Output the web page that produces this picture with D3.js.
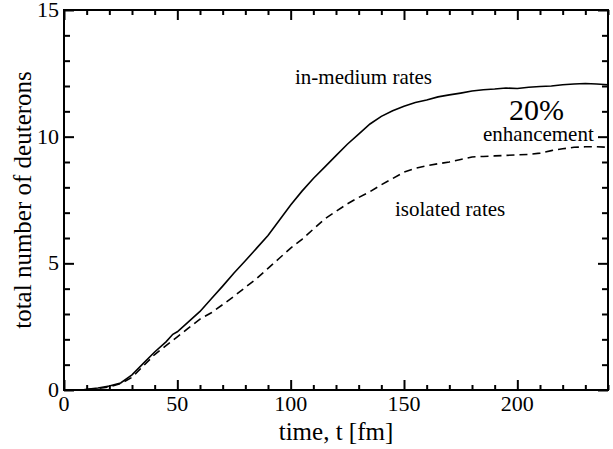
<!DOCTYPE html>
<html>
<head>
<meta charset="utf-8">
<script src="https://cdn.jsdelivr.net/npm/d3@7"></script>
<style>
  body { margin: 0; background: #fff; }
</style>
</head>
<body>
<svg id="chart" width="613" height="449"></svg>
<script>
// time in fm
var timeMedium = [8, 10, 15, 20, 25, 30, 35, 40, 45, 48, 50, 55, 60, 65, 70, 75, 80, 85, 90, 95, 100,
  105, 110, 115, 120, 125, 130, 135, 140, 145, 150, 155, 160, 165, 170, 175, 180, 185, 190, 195,
  200, 205, 210, 215, 220, 225, 230, 235, 240];
// in-medium rates, deuteron count
var nMedium = [0.0, 0.03, 0.08, 0.16, 0.28, 0.6, 1.05, 1.5, 1.9, 2.2, 2.3, 2.7, 3.1, 3.6, 4.1, 4.62, 5.1, 5.6, 6.1, 6.7, 7.3,
  7.85, 8.35, 8.8, 9.25, 9.7, 10.1, 10.5, 10.8, 11.02, 11.2, 11.35, 11.45, 11.57, 11.65, 11.72, 11.8, 11.85, 11.88, 11.92,
  11.9, 11.95, 11.98, 12.0, 12.05, 12.08, 12.1, 12.08, 12.05];

var timeIsolated = [10, 15, 20, 25, 30, 35, 40, 45, 50, 55, 60, 65, 70, 75, 80, 85, 90, 95, 100,
  105, 110, 115, 120, 125, 130, 135, 140, 145, 150, 155, 160, 165, 170, 175, 180, 185, 190, 195,
  200, 205, 210, 215, 220, 225, 230, 235, 240];
// isolated rates, deuteron count
var nIsolated = [0.02, 0.06, 0.12, 0.25, 0.5, 0.95, 1.4, 1.75, 2.1, 2.45, 2.8, 3.05, 3.37, 3.7, 4.05, 4.4, 4.8, 5.2, 5.6,
  5.95, 6.35, 6.75, 7.05, 7.35, 7.6, 7.83, 8.1, 8.35, 8.6, 8.75, 8.85, 8.93, 9.0, 9.1, 9.2, 9.22, 9.24, 9.26,
  9.28, 9.3, 9.35, 9.45, 9.52, 9.58, 9.6, 9.6, 9.58];

var xMajor = [0, 50, 100, 150, 200];
var yMajor = [0, 5, 10, 15];

var serif = "'Liberation Serif', 'Times New Roman', serif";

var svg = d3.select("#chart");
// plot box (note: "top" is taken by window.top, so use prefixed names)
var pLeft = 64, pRight = 608, pTop = 10, pBottom = 390;

var x = d3.scaleLinear().domain([0, 240]).range([pLeft, pRight]);
var y = d3.scaleLinear().domain([0, 15]).range([pBottom, pTop]);

var xMinor = d3.range(0, 241, 10).filter(function (d) { return d % 50 != 0; });
var yMinor = d3.range(0, 16, 1).filter(function (d) { return d % 5 != 0; });

// Inward ticks on all four sides
function tickAxis(axisFn, scale, vals, size, transform) {
  svg.append("g")
    .attr("transform", transform)
    .call(axisFn(scale).tickValues(vals).tickSize(size).tickFormat(""))
    .call(function (g) { g.select(".domain").remove(); })
    .selectAll("line").attr("stroke", "#000").attr("stroke-width", 2);
}
tickAxis(d3.axisBottom, x, xMajor, -10, "translate(0," + pBottom + ")");
tickAxis(d3.axisBottom, x, xMinor, -5, "translate(0," + pBottom + ")");
tickAxis(d3.axisTop, x, xMajor, -10, "translate(0," + pTop + ")");
tickAxis(d3.axisTop, x, xMinor, -5, "translate(0," + pTop + ")");
tickAxis(d3.axisLeft, y, yMajor, -10, "translate(" + pLeft + ",0)");
tickAxis(d3.axisLeft, y, yMinor, -6, "translate(" + pLeft + ",0)");
tickAxis(d3.axisRight, y, yMajor, -10, "translate(" + pRight + ",0)");
tickAxis(d3.axisRight, y, yMinor, -6, "translate(" + pRight + ",0)");

// Frame
svg.append("rect")
  .attr("x", pLeft).attr("y", pTop)
  .attr("width", pRight - pLeft).attr("height", pBottom - pTop)
  .attr("fill", "none").attr("stroke", "#000").attr("stroke-width", 2);

// all text goes in one group with the serif face
var txt = svg.append("g").attr("font-family", serif).attr("fill", "#000");

// Tick labels
txt.append("g").selectAll("text").data(xMajor).enter().append("text")
  .attr("x", function (d) { return x(d); })
  .attr("y", pBottom + 21)
  .attr("text-anchor", "middle")
  .attr("font-size", 22)
  .text(function (d) { return d; });

txt.append("g").selectAll("text").data(yMajor).enter().append("text")
  .attr("x", pLeft - 5)
  .attr("y", function (d) { return y(d) + 7; })
  .attr("text-anchor", "end")
  .attr("font-size", 22)
  .text(function (d) { return d; });

// Axis titles
txt.append("text")
  .attr("x", (pLeft + pRight) / 2).attr("y", 440)
  .attr("text-anchor", "middle").attr("font-size", 25)
  .text("time, t [fm]");

txt.append("text")
  .attr("transform", "translate(31," + (pBottom + pTop) / 2 + ") rotate(-90)")
  .attr("text-anchor", "middle").attr("font-size", 25)
  .text("total number of deuterons");

// Curves
var line = d3.line()
  .x(function (d) { return x(d[0]); })
  .y(function (d) { return y(d[1]); });

svg.append("path")
  .datum(d3.zip(timeMedium, nMedium))
  .attr("d", line)
  .attr("fill", "none").attr("stroke", "#000").attr("stroke-width", 1.6);

svg.append("path")
  .datum(d3.zip(timeIsolated, nIsolated))
  .attr("d", line)
  .attr("fill", "none").attr("stroke", "#000").attr("stroke-width", 1.6)
  .attr("stroke-dasharray", "8,5");

// Annotations
txt.append("text").attr("x", 295).attr("y", 84).attr("font-size", 21).text("in-medium rates");
txt.append("text").attr("x", 509).attr("y", 120).attr("font-size", 30).text("20%");
txt.append("text").attr("x", 483).attr("y", 141).attr("font-size", 21).text("enhancement");
txt.append("text").attr("x", 395).attr("y", 216).attr("font-size", 21).text("isolated rates");
</script>
</body>
</html>
